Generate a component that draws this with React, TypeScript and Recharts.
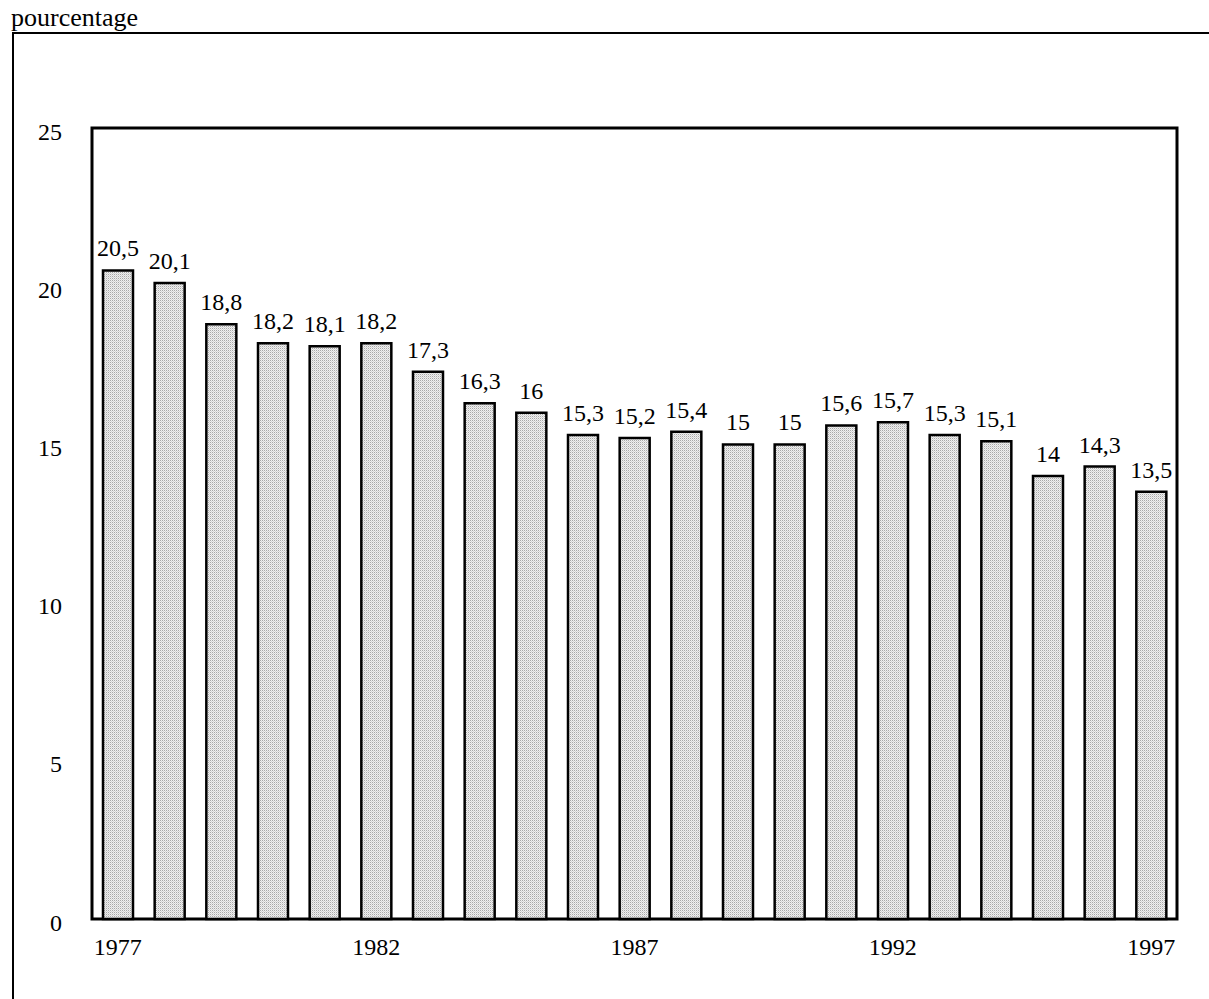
import { Bar, BarChart, LabelList, ReferenceArea, XAxis, YAxis } from 'recharts'

const YEARS = [
  '1977', '1978', '1979', '1980', '1981', '1982', '1983', '1984', '1985', '1986', '1987',
  '1988', '1989', '1990', '1991', '1992', '1993', '1994', '1995', '1996', '1997',
]
const VALUES = [
  20.5, 20.1, 18.8, 18.2, 18.1, 18.2, 17.3, 16.3, 16, 15.3, 15.2,
  15.4, 15, 15, 15.6, 15.7, 15.3, 15.1, 14, 14.3, 13.5,
]
const Y_TICKS = [0, 5, 10, 15, 20, 25]

const FONT = '"Liberation Serif", "Times New Roman", serif'

const data = YEARS.map((year, i) => ({ year, value: VALUES[i] }))

// French decimal comma
const fmt = (v: number | string) => String(v).replace('.', ',')

export default function App() {
  return (
    <div
      style={{
        position: 'absolute',
        left: 0,
        top: 0,
        width: 1209,
        height: 999,
        background: '#fff',
        fontFamily: FONT,
      }}
    >
      <div
        style={{
          position: 'absolute',
          left: 11,
          top: 5,
          fontSize: 26,
          lineHeight: '26px',
          color: '#000',
        }}
      >
        pourcentage
      </div>
      {/* outer frame: top and left rules */}
      <div style={{ position: 'absolute', left: 12, top: 32, width: 1197, height: 2, background: '#000' }} />
      <div style={{ position: 'absolute', left: 12, top: 32, width: 2, height: 967, background: '#000' }} />

      <div style={{ position: 'absolute', left: 0, top: 0 }}>
        <BarChart
          width={1209}
          height={999}
          data={data}
          margin={{ top: 128, right: 32, left: 0, bottom: 0 }}
          barSize={30}
        >
          <defs>
            <pattern id="dots" width="2" height="2" patternUnits="userSpaceOnUse">
              <rect width="2" height="2" fill="#f0f0f0" />
              <rect x="0" y="0" width="1" height="1" fill="#a8a8a8" />
              <rect x="1" y="1" width="1" height="1" fill="#d4d4d4" />
            </pattern>
          </defs>
          <XAxis
            dataKey="year"
            interval={4}
            height={80}
            tickLine={false}
            axisLine={false}
            tickSize={0}
            tickMargin={19}
            tick={{ fill: '#000', fontSize: 24, fontFamily: FONT }}
          />
          <YAxis
            type="number"
            domain={[0, 25]}
            ticks={Y_TICKS}
            width={92}
            tickLine={false}
            axisLine={false}
            tickSize={0}
            tickMargin={30}
            tick={{ fill: '#000', fontSize: 24, fontFamily: FONT, dy: 3 }}
          />
          <ReferenceArea y1={0} y2={25} fill="none" stroke="#000" strokeWidth={3} ifOverflow="visible" />
          <Bar dataKey="value" fill="url(#dots)" stroke="#000" strokeWidth={2.5} isAnimationActive={false}>
            <LabelList
              dataKey="value"
              position="top"
              offset={14}
              formatter={fmt}
              style={{ fill: '#000', fontSize: 24, fontFamily: FONT }}
            />
          </Bar>
        </BarChart>
      </div>
    </div>
  )
}
